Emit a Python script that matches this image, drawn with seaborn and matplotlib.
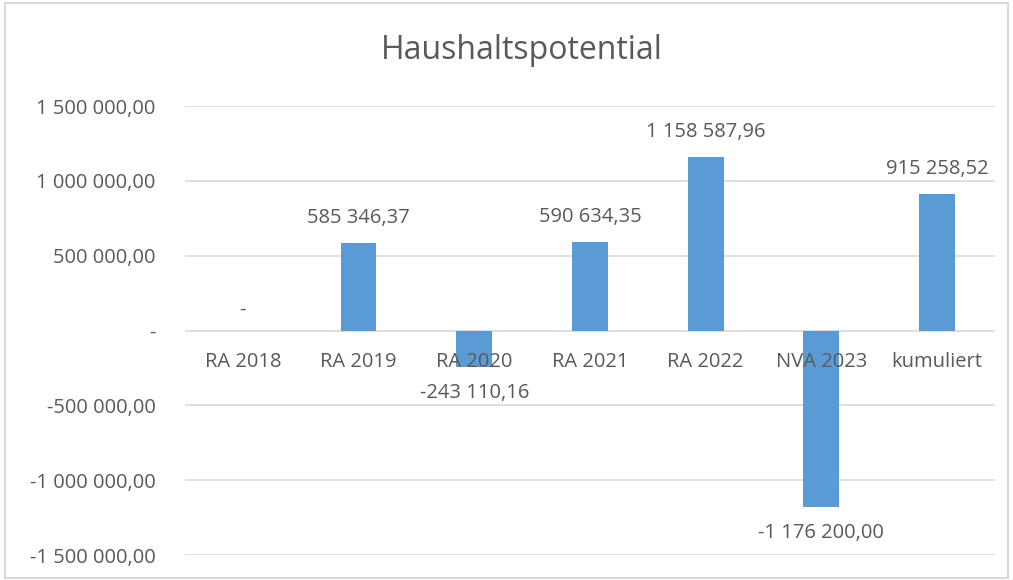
import matplotlib
matplotlib.use("Agg")
import matplotlib.pyplot as plt
import seaborn as sns
import pandas as pd

# Data
categories = ["RA 2018", "RA 2019", "RA 2020", "RA 2021", "RA 2022", "NVA 2023", "kumuliert"]
values = [0.0, 585346.37, -243110.16, 590634.35, 1158587.96, -1176200.00, 915258.52]
yticks = [-1500000, -1000000, -500000, 0, 500000, 1000000, 1500000]


def fmt(v):
    if v == 0:
        return "-"
    s = f"{abs(v):,.2f}".replace(",", " ").replace(".", ",")
    return ("-" if v < 0 else "") + s


df = pd.DataFrame({"cat": categories, "val": values})

sns.set_style("white")
plt.rcParams["font.family"] = ["Open Sans", "DejaVu Sans"]

text_col = "#595959"
grid_col = "#D9D9D9"
bar_col = "#5B9BD5"
fs = 14.5

fig = plt.figure(figsize=(10.13, 5.8), dpi=100)
ax = fig.add_axes([0.1826, 0.0431, 0.7996, 0.7741])

sns.barplot(data=df, x="cat", y="val", color=bar_col, width=0.31,
            saturation=1, linewidth=0, ax=ax, zorder=3)

ax.set_ylim(-1500000, 1500000)
ax.set_yticks(yticks)
ax.set_yticklabels([fmt(t) for t in yticks], color=text_col, fontsize=fs)
ax.tick_params(axis="y", length=0, pad=21)
ax.yaxis.grid(True, color=grid_col, linewidth=1.2)
ax.set_axisbelow(True)
for s in ax.spines.values():
    s.set_visible(False)
ax.set_xlabel("")
ax.set_ylabel("")
ax.set_xticks([])
ax.set_xlim(-0.5, len(categories) - 0.5)

# category labels along the zero line
for i, c in enumerate(categories):
    ax.annotate(c, (i, 0), xytext=(0, -31), textcoords="offset pixels",
                ha="center", va="center", color=text_col, fontsize=fs, zorder=4)

# data labels
for i, v in enumerate(values):
    off = 21 if v == 0 else (25 if v > 0 else -26)
    ax.annotate(fmt(v), (i, v), xytext=(0, off), textcoords="offset pixels",
                ha="center", va="center", color=text_col, fontsize=fs, zorder=4)

fig.text(0.515, 0.913, "Haushaltspotential", ha="center", va="center",
         color=text_col, fontsize=23)

# chart border
fig.patches.append(plt.Rectangle((0.005, 0.004), 0.99, 0.99, transform=fig.transFigure,
                                 fill=False, edgecolor="#D9D9D9", linewidth=1.5))

fig.savefig("out.png", dpi=100)
